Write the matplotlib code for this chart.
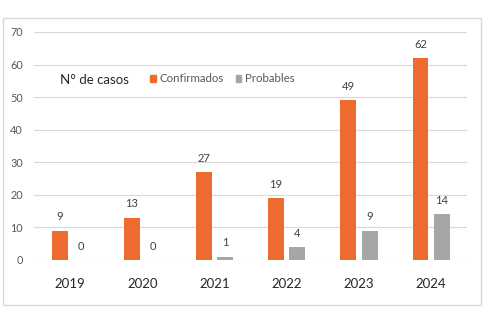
import matplotlib
matplotlib.use('Agg')
import numpy as np
from matplotlib import pyplot as plt
from matplotlib.patches import Patch, Rectangle

years = ['2019', '2020', '2021', '2022', '2023', '2024']
confirmados = [9, 13, 27, 19, 49, 62]
probables = [0, 0, 1, 4, 9, 14]

orange = '#ED6B2F'
gray = '#A6A6A6'
text_gray = '#595959'

plt.rcParams['font.family'] = ['Lato', 'DejaVu Sans']

fig = plt.figure(figsize=(5.01, 3.22), dpi=100)
ax = fig.add_axes([34 / 501, 1 - 260 / 322, 433 / 501, 228 / 322])

x = np.arange(len(years))
w = 0.22
b1 = ax.bar(x - 0.145, confirmados, w, color=orange, zorder=3)
b2 = ax.bar(x + 0.15, probables, w, color=gray, zorder=3)

# value labels above every bar
for bars, vals in ((b1, confirmados), (b2, probables)):
    for rect, v in zip(bars, vals):
        ax.annotate(str(v), (rect.get_x() + rect.get_width() / 2, v),
                    xytext=(0, 10), textcoords='offset points',
                    ha='center', va='center', fontsize=8, color='#404040')

ax.set_xlim(-0.5, len(years) - 0.5)
ax.set_ylim(0, 70)
ax.set_yticks(range(0, 71, 10))
ax.grid(axis='y', color='#D9D9D9', linewidth=0.8, zorder=0)
ax.set_axisbelow(True)
for s in ax.spines.values():
    s.set_visible(False)

ax.set_xticks(x)
ax.set_xticklabels(years, fontsize=9.5, color='#262626')
ax.tick_params(axis='x', length=0, pad=13)
ax.tick_params(axis='y', length=0, pad=8, labelsize=7.8, labelcolor=text_gray)

fig.text(60 / 501, 1 - 80 / 322, 'N° de casos', fontsize=9.5, color='#262626',
         ha='left', va='center')
handles = [Patch(color=orange, label='Confirmados'),
           Patch(color=gray, label='Probables')]
fig.legend(handles=handles, loc='center left', ncol=2,
           bbox_to_anchor=(140 / 501, 1 - 79 / 322), frameon=False,
           fontsize=8.3, labelcolor=text_gray, handlelength=0.5,
           handleheight=0.5, handletextpad=0.3, columnspacing=1.0)

# chart border
fig.patches.append(Rectangle((3 / 501, 1 - 305 / 322), 478 / 501, 287 / 322,
                             transform=fig.transFigure, fill=False,
                             edgecolor='#D9D9D9', linewidth=1))

fig.savefig('out.png', dpi=100)
